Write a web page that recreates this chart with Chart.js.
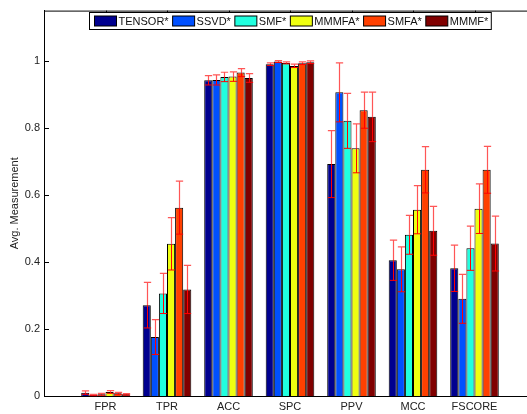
<!DOCTYPE html>
<html>
<head>
<meta charset="utf-8">
<script src="https://cdn.jsdelivr.net/npm/chart.js@4"></script>
<style>
  html, body { margin: 0; padding: 0; background: #fff; overflow: hidden; }
  #wrap { width: 527px; height: 414px; overflow: hidden; }
  canvas { display: block; }
</style>
</head>
<body>
<div id="wrap"><canvas id="chart" width="546" height="414"></canvas></div>
<script>
// ===== Data =====
const categories = ["FPR", "TPR", "ACC", "SPC", "PPV", "MCC", "FSCORE"];
const seriesNames = ["TENSOR*", "SSVD*", "SMF*", "MMMFA*", "SMFA*", "MMMF*"];
const seriesColors = ["#00008f", "#0050ff", "#20ffdf", "#efff10", "#ff4000", "#800000"];

const tensorVals = [0.010, 0.271, 0.942, 0.990, 0.692, 0.405, 0.381];
const ssvdVals   = [0.003, 0.176, 0.943, 0.998, 0.906, 0.378, 0.290];
const smfVals    = [0.005, 0.306, 0.952, 0.994, 0.821, 0.481, 0.441];
const mmmfaVals  = [0.012, 0.454, 0.953, 0.985, 0.739, 0.556, 0.559];
const smfaVals   = [0.008, 0.562, 0.965, 0.993, 0.853, 0.675, 0.675];
const mmmfVals   = [0.005, 0.318, 0.949, 0.996, 0.833, 0.493, 0.455];

const tensorErr = [0.005, 0.068, 0.014, 0.004, 0.100, 0.060, 0.069];
const ssvdErr   = [0.002, 0.052, 0.015, 0.003, 0.088, 0.067, 0.073];
const smfErr    = [0.003, 0.060, 0.014, 0.003, 0.082, 0.058, 0.066];
const mmmfaErr  = [0.004, 0.078, 0.014, 0.005, 0.073, 0.072, 0.074];
const smfaErr   = [0.003, 0.079, 0.012, 0.004, 0.054, 0.069, 0.070];
const mmmfErr   = [0.002, 0.072, 0.013, 0.004, 0.074, 0.073, 0.082];

const yTicks = [0, 0.2, 0.4, 0.6, 0.8, 1];

const allVals = [tensorVals, ssvdVals, smfVals, mmmfaVals, smfaVals, mmmfVals];
const allErrs = [tensorErr, ssvdErr, smfErr, mmmfaErr, smfaErr, mmmfErr];

const FONT = '"Liberation Sans", Arial, Helvetica, sans-serif';

// axis runs from 0 to 8 like the original, so pad both ends with an empty slot
const labels = ["", ...categories, ""];

// ===== Plugins =====
const errorBars = {
  id: "errorBars",
  afterDatasetsDraw(chart) {
    const ctx = chart.ctx;
    const y = chart.scales.y;
    ctx.save();
    allVals.forEach((vals, i) => {
      const meta = chart.getDatasetMeta(i);
      vals.forEach((v, j) => {
        const bar = meta.data[j + 1];
        const e = allErrs[i][j];
        const x = Math.round(bar.x) + 0.5;
        const yv = y.getPixelForValue(v);
        const yHi = y.getPixelForValue(v + e);
        const yLo = y.getPixelForValue(v - e);
        const cap = bar.width * 0.45;
        // upper whisker (looks lighter on white)
        ctx.strokeStyle = "rgba(255,30,30,0.75)";
        ctx.lineWidth = 1.2;
        ctx.beginPath();
        ctx.moveTo(x, yv);
        ctx.lineTo(x, yHi);
        ctx.moveTo(x - cap, yHi);
        ctx.lineTo(x + cap, yHi);
        ctx.stroke();
        // lower whisker
        ctx.strokeStyle = "#ff0000";
        ctx.lineWidth = 1;
        ctx.beginPath();
        ctx.moveTo(x, yv);
        ctx.lineTo(x, yLo);
        ctx.moveTo(x - cap, yLo);
        ctx.lineTo(x + cap, yLo);
        ctx.stroke();
      });
    });
    ctx.restore();
  },
};

const frame = {
  id: "frame",
  afterDraw(chart) {
    const ctx = chart.ctx;
    const a = chart.chartArea;
    const x = chart.scales.x;
    const y = chart.scales.y;
    ctx.save();
    ctx.strokeStyle = "#000";
    ctx.lineWidth = 1;
    ctx.beginPath();
    // top border
    ctx.moveTo(a.left, a.top + 0.5);
    ctx.lineTo(a.right, a.top + 0.5);
    // inward ticks on the left
    yTicks.forEach((t) => {
      const py = Math.round(y.getPixelForValue(t)) + 0.5;
      ctx.moveTo(a.left, py);
      ctx.lineTo(a.left + 5, py);
    });
    // inward ticks on the top
    categories.forEach((c, i) => {
      const px = Math.round(x.getPixelForValue(i + 1)) + 0.5;
      ctx.moveTo(px, a.top);
      ctx.lineTo(px, a.top + 4);
    });
    ctx.stroke();

    // legend box inside the axes
    ctx.font = "11px " + FONT;
    const boxW = 22, boxH = 10, gapBox = 2, gapItem = 4, padL = 5, padR = 3;
    const widths = seriesNames.map((n) => ctx.measureText(n).width);
    let total = padL + padR;
    widths.forEach((w, i) => {
      total += boxW + gapBox + w + (i < widths.length - 1 ? gapItem : 0);
    });
    const lx = Math.round((a.left + a.right) / 2 - total / 2) + 0.5;
    const ly = 12.5, lh = 17;
    ctx.fillStyle = "#fff";
    ctx.fillRect(lx, ly, total, lh);
    ctx.strokeRect(lx, ly, total, lh);
    let cx = lx + padL;
    ctx.textBaseline = "middle";
    seriesNames.forEach((n, i) => {
      ctx.fillStyle = seriesColors[i];
      ctx.fillRect(cx, ly + 3.5, boxW, boxH);
      ctx.strokeRect(cx, ly + 3.5, boxW, boxH);
      cx += boxW + gapBox;
      ctx.fillStyle = "#111";
      ctx.fillText(n, cx, ly + lh / 2 + 0.5);
      cx += widths[i] + gapItem;
    });
    ctx.restore();
  },
};

// ===== Chart =====
new Chart(document.getElementById("chart"), {
  type: "bar",
  data: {
    labels,
    datasets: seriesNames.map((name, i) => ({
      label: name,
      data: [null, ...allVals[i], null],
      backgroundColor: seriesColors[i],
      borderColor: "#000",
      borderWidth: 1,
      categoryPercentage: 0.79,
      barPercentage: 1.0,
    })),
  },
  options: {
    responsive: false,
    animation: false,
    layout: { padding: { top: 9, right: 10, left: 0, bottom: 0 } },
    plugins: {
      legend: { display: false },
      tooltip: { enabled: false },
    },
    scales: {
      x: {
        offset: false,
        grid: { display: false, drawTicks: false },
        border: { display: true, color: "#000", width: 1 },
        ticks: { color: "#222", font: { family: FONT, size: 11 }, padding: 4, autoSkip: false, maxRotation: 0 },
        afterFit: (s) => { s.height = 18; },
      },
      y: {
        min: 0,
        max: 1.15,
        grid: { display: false, drawTicks: false },
        border: { display: true, color: "#000", width: 1 },
        ticks: {
          color: "#222",
          font: { family: FONT, size: 11 },
          padding: 4,
          callback: (v) => String(+v.toFixed(1)),
        },
        afterBuildTicks: (s) => { s.ticks = yTicks.map((v) => ({ value: v })); },
        afterFit: (s) => { s.width = 44; },
        title: {
          display: true,
          text: "Avg. Measurement",
          color: "#222",
          font: { family: FONT, size: 11 },
          padding: { top: 8, bottom: 0 },
        },
      },
    },
  },
  plugins: [errorBars, frame],
});
</script>
</body>
</html>
